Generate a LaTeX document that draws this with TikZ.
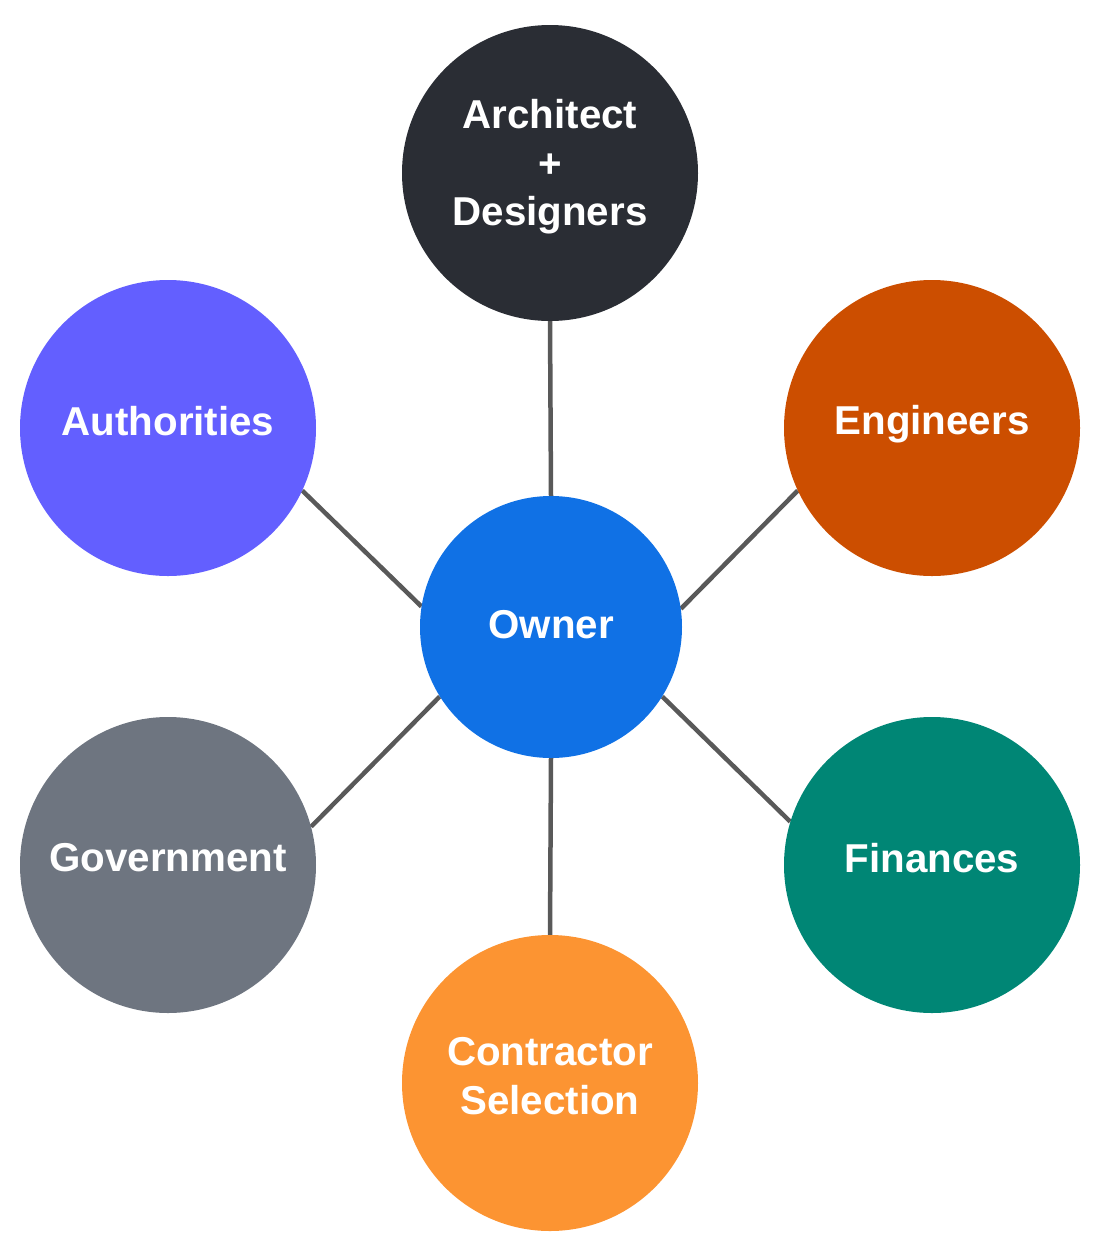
\documentclass[tikz,border=0pt]{standalone}
\usepackage{fontspec}
\setmainfont{Liberation Sans}
\usetikzlibrary{backgrounds}
\definecolor{cArch}{HTML}{2A2D34}
\definecolor{cAuth}{HTML}{635FFF}
\definecolor{cEng}{HTML}{CC4E00}
\definecolor{cOwn}{HTML}{1071E5}
\definecolor{cGov}{HTML}{6E7580}
\definecolor{cFin}{HTML}{008675}
\definecolor{cCon}{HTML}{FC9432}
\definecolor{cLine}{HTML}{595959}
\begin{document}
\begin{tikzpicture}[x=1pt,y=-1pt,
  bubble/.style={circle,minimum size=296pt,inner sep=0pt,draw=none},
  txt/.style={text=white,font=\bfseries\fontsize{40.3}{48.5}\selectfont,align=center,inner sep=0pt},
  link/.style={draw=cLine,line width=4.5pt}]
\useasboundingbox (0,0) rectangle (1104,1254);
\node[bubble,fill=cArch,label={[txt,yshift=6pt]center:Architect\\+\\Designers}] (arch) at (550,173) {};
\node[bubble,fill=cAuth,label={[txt,yshift=7pt]center:Authorities}] (auth) at (168,428) {};
\node[bubble,fill=cEng,label={[txt,yshift=4pt]center:Engineers}] (eng) at (932,428) {};
\node[bubble,minimum size=262pt,fill=cOwn,label={[txt,yshift=2pt]center:Owner}] (own) at (551,627) {};
\node[bubble,fill=cGov,label={[txt,yshift=7pt]center:Government}] (gov) at (168,865) {};
\node[bubble,fill=cFin,label={[txt,yshift=7pt]center:Finances}] (fin) at (932,865) {};
\node[bubble,fill=cCon,label={[txt,yshift=7pt]center:Contractor\\Selection}] (con) at (550,1083) {};
\begin{scope}[on background layer]
\draw[link] (arch.south) -- (own.north);
\draw[link] (con.north) -- (own.south);
\draw[link] (auth.-25) -- (own.171);
\draw[link] (eng.205.4) -- (own.8.6);
\draw[link] (gov.15.5) -- (own.212.2);
\draw[link] (fin.163.2) -- (own.-32);
\end{scope}
\end{tikzpicture}
\end{document}
